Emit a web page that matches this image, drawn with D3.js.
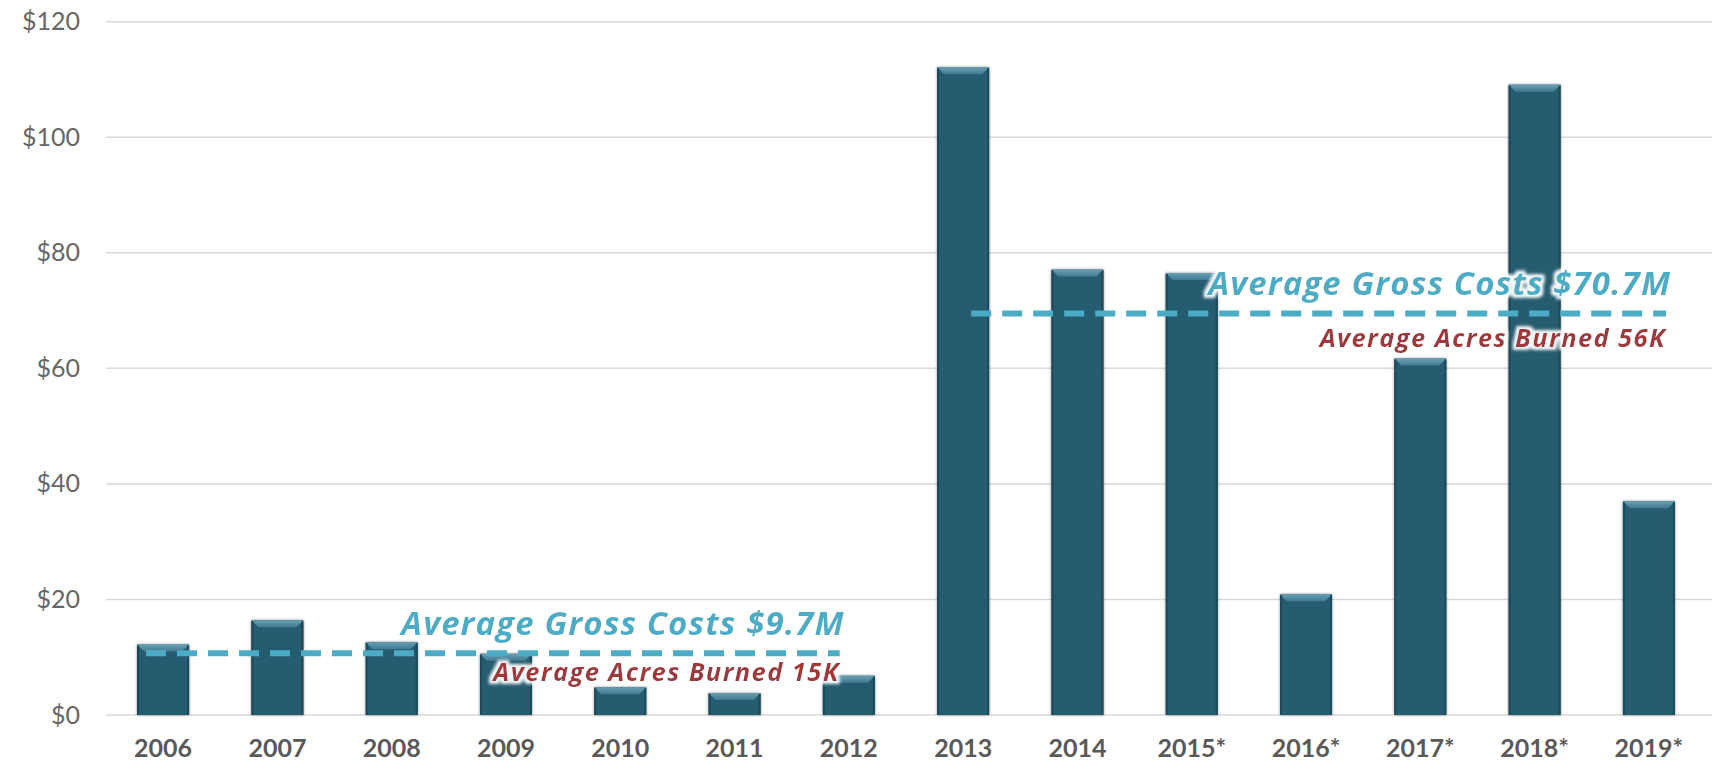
<!DOCTYPE html>
<html>
<head>
<meta charset="utf-8">
<script src="https://cdn.jsdelivr.net/npm/d3@7"></script>
<style>
  html, body { margin: 0; padding: 0; background: #fff; }
  svg { display: block; }
</style>
</head>
<body>
<div id="chart"></div>
<script>
// data (gross costs, $M)
var years = ["2006","2007","2008","2009","2010","2011","2012","2013","2014","2015*","2016*","2017*","2018*","2019*"];
var costs = [12.2, 16.4, 12.6, 10.6, 4.8, 3.8, 6.8, 112.1, 77.1, 76.5, 20.9, 61.7, 109.1, 37.0];
var yTicks = [0, 20, 40, 60, 80, 100, 120];

// the two average periods
var avgFrom = ["2006", "2013"];
var avgTo = ["2012", "2019*"];
var avgLevel = [10.7, 69.5];
var avgCostLabels = ["Average Gross Costs $9.7M", "Average Gross Costs $70.7M"];
var avgAcreLabels = ["Average Acres Burned 15K", "Average Acres Burned 56K"];

var W = 1719, H = 762;
var svg = d3.select("#chart").append("svg")
  .attr("width", W)
  .attr("height", H);

var x = d3.scaleBand()
  .domain(years)
  .range([106, 1706])
  .paddingInner(0.545)
  .paddingOuter(0.272);

var y = d3.scaleLinear()
  .domain([0, 120])
  .range([715, 21.7]);

//Defs: bar shadow
var defs = svg.append("defs");
var shadow = defs.append("filter").attr("id", "barShadow")
  .attr("x", "-20%").attr("y", "-10%").attr("width", "140%").attr("height", "120%");
shadow.append("feDropShadow")
  .attr("dx", 0).attr("dy", 0).attr("stdDeviation", 1.6)
  .attr("flood-color", "#000").attr("flood-opacity", 0.45);

var bevel = defs.append("linearGradient").attr("id", "bevelTop")
  .attr("x1", 0).attr("y1", 0).attr("x2", 0).attr("y2", 1);
bevel.append("stop").attr("offset", "0%").attr("stop-color", "#6a9fb3");
bevel.append("stop").attr("offset", "100%").attr("stop-color", "#3f7b92");

// soft white glow behind the labels
var glow = defs.append("filter").attr("id", "glow")
  .attr("x", "-5%").attr("y", "-30%").attr("width", "110%").attr("height", "160%");
glow.append("feMorphology").attr("in", "SourceAlpha").attr("operator", "dilate").attr("radius", 2.5).attr("result", "fat");
glow.append("feGaussianBlur").attr("in", "fat").attr("stdDeviation", 1.5).attr("result", "blur");
glow.append("feFlood").attr("flood-color", "#fff").attr("flood-opacity", 0.95);
glow.append("feComposite").attr("in2", "blur").attr("operator", "in").attr("result", "halo");
var gm = glow.append("feMerge");
gm.append("feMergeNode").attr("in", "halo");
gm.append("feMergeNode").attr("in", "SourceGraphic");

//Gridlines
svg.append("g").selectAll("line")
  .data(yTicks)
  .enter()
  .append("line")
  .attr("x1", 106)
  .attr("x2", 1712)
  .attr("y1", function(d){ return y(d); })
  .attr("y2", function(d){ return y(d); })
  .style("stroke", "#d9d9d9")
  .style("stroke-width", 1.5);

//Y axis labels
svg.append("g").selectAll("text")
  .data(yTicks)
  .enter()
  .append("text")
  .attr("x", 80)
  .attr("y", function(d){ return y(d); })
  .attr("dy", "0.34em")
  .attr("text-anchor", "end")
  .style("font-family", "Lato, 'Open Sans', sans-serif")
  .style("font-size", "25px")
  .style("fill", "#666")
  .text(function(d){ return "$" + d; });

//Bars
var bars = svg.append("g").selectAll("g")
  .data(years)
  .enter()
  .append("g");

bars.append("rect")
  .attr("x", function(d){ return x(d); })
  .attr("y", function(d, i){ return y(costs[i]); })
  .attr("width", x.bandwidth())
  .attr("height", function(d, i){ return y(0) - y(costs[i]); })
  .attr("filter", "url(#barShadow)")
  .style("fill", "#265b6f");

// lighter bevel on the top edge
bars.append("path")
  .attr("d", function(d, i){
    var x0 = x(d), x1 = x(d) + x.bandwidth(), t = y(costs[i]), b = 7;
    return "M" + x0 + "," + t + "L" + x1 + "," + t + "L" + (x1 - b) + "," + (t + b) +
      "L" + (x0 + b) + "," + (t + b) + "Z";
  })
  .style("fill", "url(#bevelTop)");

// thin darker sides
bars.append("rect")
  .attr("x", function(d){ return x(d); })
  .attr("y", function(d, i){ return y(costs[i]) + 1; })
  .attr("width", 2)
  .attr("height", function(d, i){ return Math.max(0, y(0) - y(costs[i]) - 1); })
  .style("fill", "#1c4a5b");
bars.append("rect")
  .attr("x", function(d){ return x(d) + x.bandwidth() - 2; })
  .attr("y", function(d, i){ return y(costs[i]) + 1; })
  .attr("width", 2)
  .attr("height", function(d, i){ return Math.max(0, y(0) - y(costs[i]) - 1); })
  .style("fill", "#1c4a5b");

//X axis labels
svg.append("g").selectAll("text")
  .data(years)
  .enter()
  .append("text")
  .attr("x", function(d){ return x(d) + x.bandwidth() / 2; })
  .attr("y", 757)
  .attr("text-anchor", "middle")
  .style("font-family", "Lato, 'Open Sans', sans-serif")
  .style("font-weight", "bold")
  .style("font-size", "25px")
  .style("fill", "#595959")
  .text(function(d){ return d; });

//Average lines + labels
var step = x.step();
var startFrac = [0.35, 0.57];
var endFrac = [0.42, 0.65];
var acreDrop = [28, 34];

function lineStart(i){
  return x(avgFrom[i]) - x.paddingOuter() * step + startFrac[i] * step;
}
function lineEnd(i){
  return x(avgTo[i]) - (step - x.bandwidth()) / 2 + endFrac[i] * step;
}

var avg = svg.append("g").selectAll("g")
  .data(avgLevel)
  .enter()
  .append("g");

avg.append("line")
  .attr("x1", function(d, i){ return lineStart(i); })
  .attr("x2", function(d, i){ return lineEnd(i); })
  .attr("y1", function(d){ return y(d); })
  .attr("y2", function(d){ return y(d); })
  .style("stroke", "#4bacc6")
  .style("stroke-width", 6)
  .style("stroke-dasharray", "20,11");

avg.append("text")
  .attr("x", function(d, i){ return lineEnd(i) + 5; })
  .attr("y", function(d){ return y(d) - 18; })
  .attr("text-anchor", "end")
  .attr("filter", "url(#glow)")
  .style("font-family", "'Open Sans', Lato, sans-serif")
  .style("font-weight", "bold")
  .style("font-style", "italic")
  .style("font-size", "33px")
  .style("letter-spacing", "1.1px")
  .style("fill", "#4bacc6")
  .text(function(d, i){ return avgCostLabels[i]; });

avg.append("text")
  .attr("x", function(d, i){ return lineEnd(i); })
  .attr("y", function(d, i){ return y(d) + acreDrop[i]; })
  .attr("text-anchor", "end")
  .attr("filter", "url(#glow)")
  .style("font-family", "'Open Sans', Lato, sans-serif")
  .style("font-weight", "bold")
  .style("font-style", "italic")
  .style("font-size", "25.5px")
  .style("letter-spacing", "1.4px")
  .style("fill", "#a0373a")
  .text(function(d, i){ return avgAcreLabels[i]; });
</script>
</body>
</html>
